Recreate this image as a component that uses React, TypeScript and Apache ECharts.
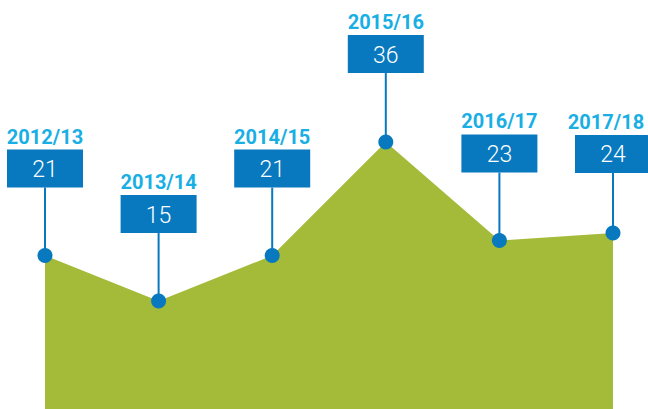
import React, { useEffect, useRef } from "react";
import * as echarts from "echarts";

const years = ["2012/13", "2013/14", "2014/15", "2015/16", "2016/17", "2017/18"];
const values = [21, 15, 21, 36, 23, 24];

// layout only: how far above each point its callout box sits, and year-label nudges
const lifts = [68, 68, 68, 69, 68, 60];
const yearShift = [0, 0, 0, 0, 0, -7];

const GREEN = "#a3bb39";
const BLUE = "#0879bf";
const CYAN = "#19afe4";

export default function App() {
  const ref = useRef<HTMLDivElement>(null);
  useEffect(() => {
    if (!ref.current) return;
    const chart = echarts.init(ref.current, null, { renderer: "svg" });
    chart.setOption({
      animation: false,
      grid: { left: 45, right: 35, top: 0, bottom: 0 },
      xAxis: {
        type: "category",
        data: years,
        boundaryGap: false,
        show: false,
      },
      yAxis: { type: "value", min: 0.74, max: 54.76, show: false },
      series: [
        {
          type: "line",
          data: values,
          showSymbol: false,
          lineStyle: { width: 0 },
          areaStyle: { color: GREEN, opacity: 1, origin: "start" },
          silent: true,
          z: 1,
        },
        {
          type: "custom",
          data: values.map((v, i) => [i, v]),
          z: 3,
          renderItem: (params: any, api: any) => {
            const i = api.value(0);
            const p = api.coord([i, api.value(1)]);
            const x = p[0];
            const y = p[1];
            const lift = lifts[params.dataIndex];
            const boxW = 76;
            const boxH = 38;
            const boxBottom = y - lift;
            const boxTop = boxBottom - boxH;
            return {
              type: "group",
              children: [
                {
                  type: "line",
                  shape: { x1: x, y1: y, x2: x, y2: boxBottom },
                  style: { stroke: BLUE, lineWidth: 2 },
                },
                {
                  type: "circle",
                  shape: { cx: x, cy: y, r: 7.5 },
                  style: { fill: BLUE },
                },
                {
                  type: "rect",
                  shape: { x: x - boxW / 2, y: boxTop, width: boxW, height: boxH },
                  style: { fill: BLUE },
                },
                {
                  type: "text",
                  x: x,
                  y: boxTop + boxH / 2 + 1,
                  style: {
                    text: String(values[params.dataIndex]),
                    fill: "#ffffff",
                    font: "300 23px Roboto",
                    align: "center",
                    verticalAlign: "middle",
                  },
                },
                {
                  type: "text",
                  x: x + yearShift[params.dataIndex],
                  y: boxTop - 13,
                  style: {
                    text: years[params.dataIndex],
                    fill: CYAN,
                    font: "bold 20px Roboto",
                    align: "center",
                    verticalAlign: "middle",
                  },
                },
              ],
            };
          },
        },
      ],
    });
    return () => chart.dispose();
  }, []);
  return (
    <div
      ref={ref}
      style={{ position: "absolute", left: 0, top: 0, width: 648, height: 409, background: "#ffffff" }}
    />
  );
}
